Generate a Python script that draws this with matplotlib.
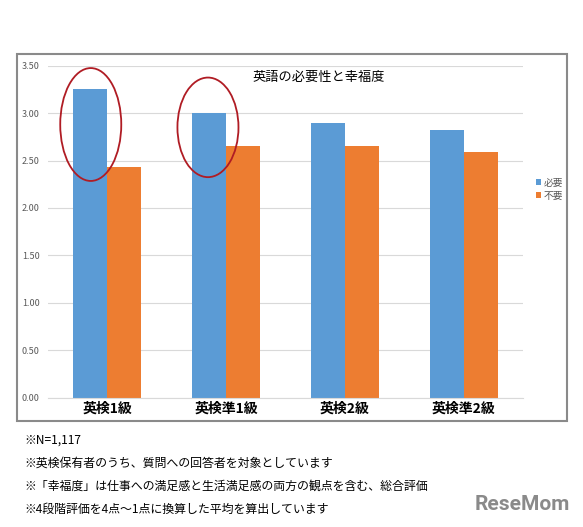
import matplotlib
matplotlib.use("Agg")
import matplotlib.pyplot as plt
from matplotlib.patches import Ellipse, Rectangle
import numpy as np

plt.rcParams['font.family'] = ['Noto Sans CJK JP', 'DejaVu Sans']

categories = ['英検1級', '英検準1級', '英検2級', '英検準2級']
need = [3.25, 3.00, 2.90, 2.82]
noneed = [2.43, 2.65, 2.65, 2.59]
series = ['必要', '不要']
yticks = [0.0, 0.5, 1.0, 1.5, 2.0, 2.5, 3.0, 3.5]
title = '英語の必要性と幸福度'
notes = ['※N=1,117',
         '※英検保有者のうち、質問への回答者を対象としています',
         '※「幸福度」は仕事への満足感と生活満足感の両方の観点を含む、総合評価',
         '※4段階評価を4点～1点に換算した平均を算出しています']

W, H = 583, 527
fig = plt.figure(figsize=(W/100, H/100), dpi=100)
fig.patches.append(Rectangle((17/W, 1-421/H), (567-17)/W, (421-54)/H,
                             transform=fig.transFigure, fill=False,
                             edgecolor='#8a8a8a', linewidth=1.5))
ax = fig.add_axes([48/W, 1-397.7/H, (523-48)/W, (397.7-65.7)/H])
x = np.arange(len(categories))
bw = 0.286
ax.bar(x - bw/2, need, bw, color='#5b9bd5', label=series[0])
ax.bar(x + bw/2, noneed, bw, color='#ed7d31', label=series[1])
ax.set_xlim(-0.5, len(categories) - 0.5)
ax.set_ylim(0, 3.5)
ax.set_yticks(yticks)
ax.set_yticklabels([f'{v:.2f}' for v in yticks], fontsize=6.5, color='#595959')
ax.set_xticks(x)
ax.set_xticklabels(categories, fontsize=10, fontweight='bold')
ax.tick_params(length=0, pad=3)
ax.tick_params(axis='y', pad=6)
ax.grid(axis='y', color='#d9d9d9', linewidth=0.8)
ax.set_axisbelow(True)
for s in ['top', 'right', 'left']:
    ax.spines[s].set_visible(False)
ax.spines['bottom'].set_color('#d9d9d9')
ax.text(0.57, 0.965, title, transform=ax.transAxes, ha='center', va='center', fontsize=9.5)

for cx, cy, w, h in [(-0.14, 2.88, 0.514, 1.19), (0.847, 2.85, 0.514, 1.05)]:
    ax.add_patch(Ellipse((cx, cy), w, h, fill=False, edgecolor='#b01c24', linewidth=1.3, clip_on=False))

fig.legend(loc='center left', bbox_to_anchor=(527/W, 1-189/H), frameon=False,
           fontsize=7, handlelength=0.5, handleheight=0.5, handletextpad=0.3,
           labelspacing=0.3, labelcolor='#595959')

for i, t in enumerate(notes):
    fig.text(24/W, 1-(440 + 23*i)/H, t, fontsize=8.6, va='center', ha='left')
fig.text(570/W, 1-505/H, 'ReseMom', fontsize=15, fontweight='bold', color='#8a8a8a',
         ha='right', va='center', family=['Roboto', 'DejaVu Sans'])

fig.savefig('out.png', dpi=100)
